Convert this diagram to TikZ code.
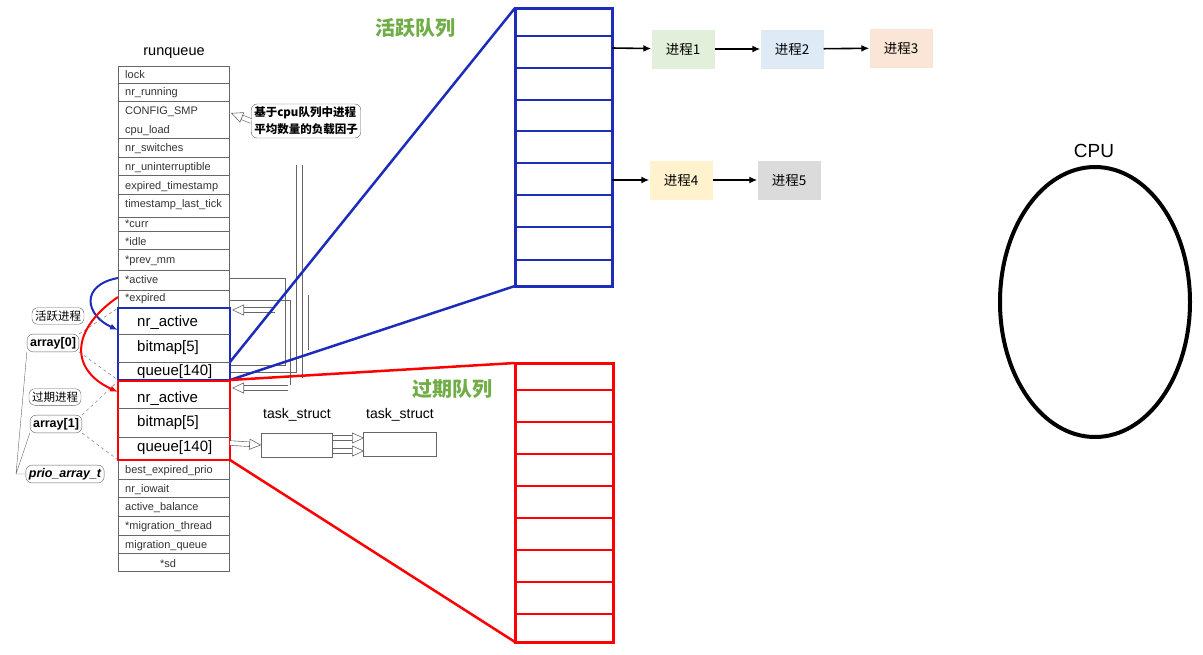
\documentclass[tikz,border=0pt]{standalone}
\usepackage{fontspec}
\setmainfont{Liberation Sans}
\newfontfamily\cjk{Noto Sans CJK SC}
\usetikzlibrary{arrows.meta,shapes.geometric}
\definecolor{qgreen}{RGB}{112,173,71}
\definecolor{qblue}{RGB}{30,45,185}
\definecolor{p1}{RGB}{226,239,218}
\definecolor{p2}{RGB}{222,235,247}
\definecolor{p3}{RGB}{251,229,214}
\definecolor{p4}{RGB}{255,242,204}
\definecolor{p5}{RGB}{219,219,219}
\tikzset{
 rowtxt/.style={anchor=west,font=\fontsize{11}{12}\selectfont,text=black!80,inner sep=0,yshift=-2pt},
 bigtxt/.style={anchor=west,font=\fontsize{15}{16}\selectfont,inner sep=0,yshift=-1pt},
 gl/.style={draw=black!60,line width=0.7pt},
 proc/.style={minimum width=63pt,minimum height=39pt,inner sep=0,font=\cjk\fontsize{13.5}{15}\selectfont},
 parr/.style={-{Latex[length=8pt,width=7pt]},line width=1.6pt},
 callout/.style={draw=black!60,rounded corners=6pt,inner sep=3pt,font=\cjk\fontsize{11.5}{13}\selectfont},
 hollow/.style={-{Triangle[open,length=12pt,width=11pt]},double=white,double distance=4pt,draw=black!60,line width=0.6pt},
}
\begin{document}
\begin{tikzpicture}[x=1pt,y=-1pt]
\useasboundingbox (0,0) rectangle (1203,654);
% runqueue table
\node[font=\fontsize{14.5}{16}\selectfont] (rqt) at (174,53) {runqueue};
\foreach \a/\b in {66/83,83/101,101/138,138/157,157/175,175/194,194/217,217/231,231/249,249/270,270/290,290/308,460/479,479/497,497/516,516/535,535/553,553/571}
  \draw[gl] (118,\a) rectangle (229,\b);
\node[rowtxt] (r1) at (125,73) {lock};
\node[rowtxt] (r2) at (125,91) {nr\_running};
\node[rowtxt] (r3) at (125,110) {CONFIG\_SMP};
\node[rowtxt] (r3b) at (125,129) {cpu\_load};
\node[rowtxt] (r4) at (125,147) {nr\_switches};
\node[rowtxt] (r5) at (125,166) {nr\_uninterruptible};
\node[rowtxt] (r6) at (125,185) {expired\_timestamp};
\node[rowtxt] (r7) at (125,203) {timestamp\_last\_tick};
\node[rowtxt] (r8) at (125,222) {*curr};
\node[rowtxt] (r9) at (125,240) {*idle};
\node[rowtxt] (r10) at (125,259) {*prev\_mm};
\node[rowtxt] (ract) at (125,278) {*active};
\node[rowtxt] (rexp) at (125,297) {*expired};
\node[rowtxt] (r11) at (125,469) {best\_expired\_prio};
\node[rowtxt] (r12) at (125,488) {nr\_iowait};
\node[rowtxt] (r13) at (125,506) {active\_balance};
\node[rowtxt] (r14) at (125,525) {*migration\_thread};
\node[rowtxt] (r15) at (125,544) {migration\_queue};
\node[rowtxt] (r16) at (160,562) {*sd};
% grey wiring
\draw[gl] (229,278) -- (285,278) -- (285,365) -- (229,365);
\draw[gl] (229,300) -- (290,300) -- (290,385);
\draw[gl] (296,165) -- (296,372) -- (229,372);
\draw[gl] (302,165) -- (302,378);
\draw[gl] (308,295) -- (308,350);
\draw[hollow] (275,310) -- (232,310);
\draw[hollow] (288,388) -- (232,388);
% blue/red arrays
\draw[qblue,line width=1.8pt] (118,308) rectangle (230,380);
\draw[gl] (118,334) -- (230,334) (118,362) -- (230,362);
\draw[red,line width=1.8pt] (118,381) rectangle (230,460);
\draw[gl] (118,408) -- (230,408) (118,437) -- (230,437);
\node[bigtxt] (a1) at (137,322) {nr\_active};
\node[bigtxt] (a2) at (137,347) {bitmap[5]};
\node[bigtxt] (a3) at (137,371) {queue[140]};
\node[bigtxt] (e1) at (137,398) {nr\_active};
\node[bigtxt] (e2) at (137,422) {bitmap[5]};
\node[bigtxt] (e3) at (137,447) {queue[140]};
\coordinate (bt) at (118,330);
\coordinate (rt) at (118,392);
\draw[qblue,line width=2pt,-{Latex[length=8pt]}] (118,278) .. controls (80,285) and (85,315) .. (bt);
\draw[red,line width=2pt,-{Latex[length=8pt]}] (118,297) .. controls (70,330) and (70,370) .. (rt);
% task_struct
\node[font=\fontsize{14}{16}\selectfont] (tsl1) at (297,415) {task\_struct};
\node[font=\fontsize{14}{16}\selectfont] (tsl2) at (400,415) {task\_struct};
\node[draw=black!60,minimum width=71pt,minimum height=24pt,inner sep=0] (ts1) at (297,445) {};
\node[draw=black!60,minimum width=73pt,minimum height=24pt,inner sep=0] (ts2) at (400,444) {};
\draw[hollow] (230,443) -- (ts1.west);
\draw[hollow] (ts1.east |- 0,438) -- (364,438);
\draw[hollow] (333,451) -- (364,451);
% callout
\node[callout,align=left] (bub) at (306,121) {\bfseries\itshape 基于cpu队列中进程\\[4pt]\bfseries\itshape 平均数量的负载因子};
\draw[hollow] (bub.west) -- (231,113);
% left labels
\node[callout] (l1) at (58,316) {活跃进程};
\node[callout,font=\fontsize{12.5}{13}\selectfont\bfseries] (l2) at (53,343) {array[0]};
\node[callout] (l3) at (55,397) {过期进程};
\node[callout,font=\fontsize{12.5}{13}\selectfont\bfseries] (l4) at (56,424) {array[1]};
\node[callout,font=\fontsize{12.5}{13}\selectfont\bfseries\itshape] (l5) at (65,474) {prio\_array\_t};
\draw[gl,dashed,line width=0.4pt] (l2.north east) -- (118,308) (l2.south east) -- (118,380);
\draw[gl,dashed,line width=0.4pt] (l4.north east) -- (118,381) (l4.south east) -- (118,460);
\draw[gl,line width=0.4pt] (l5.west) -- (16,474) -- (l2.south west) (16,474) -- (l4.south west);
% big queues
\foreach \y in {36,68,100,131,163,195,227,260} \draw[qblue,line width=2.5pt] (515,\y) -- (612,\y);
\draw[qblue,line width=3pt] (515,8) rectangle (612,286);
\foreach \y in {390,422,454,486,518,550,582,614} \draw[red,line width=2.5pt] (515,\y) -- (613,\y);
\draw[red,line width=3pt] (515,363) rectangle (613,642);
\coordinate (aq) at (515,8); \coordinate (ab) at (515,286);
\coordinate (eq) at (515,363); \coordinate (eb) at (515,642);
\draw[qblue,line width=2.5pt] (230,362) -- (aq) (230,380) -- (ab);
\draw[red,line width=2.5pt] (230,380) -- (eq) (230,460) -- (eb);
\node[text=qgreen,font=\cjk\bfseries\fontsize{20}{24}\selectfont] (lab1) at (415,28) {活跃队列};
\node[text=qgreen,font=\cjk\bfseries\fontsize{20}{24}\selectfont] (lab2) at (452,389) {过期队列};
% processes
\node[proc,fill=p1] (n1) at (683,49) {进程1};
\node[proc,fill=p2] (n2) at (792,49) {进程2};
\node[proc,fill=p3] (n3) at (901,48) {进程3};
\node[proc,fill=p4] (n4) at (681,180) {进程4};
\node[proc,fill=p5] (n5) at (789,180) {进程5};
\coordinate (s1) at (612,48); \coordinate (s2) at (612,180);
\draw[parr] (s1) -- (n1); \draw[parr] (n1) -- (n2); \draw[parr] (n2) -- (n3);
\draw[parr] (s2) -- (n4); \draw[parr] (n4) -- (n5);
% CPU
\node[font=\fontsize{19}{21}\selectfont] (cpul) at (1094,151) {CPU};
\node[draw,ellipse,line width=4pt,minimum width=190pt,minimum height=270pt] (cpu) at (1095,302) {};
\end{tikzpicture}
\end{document}
